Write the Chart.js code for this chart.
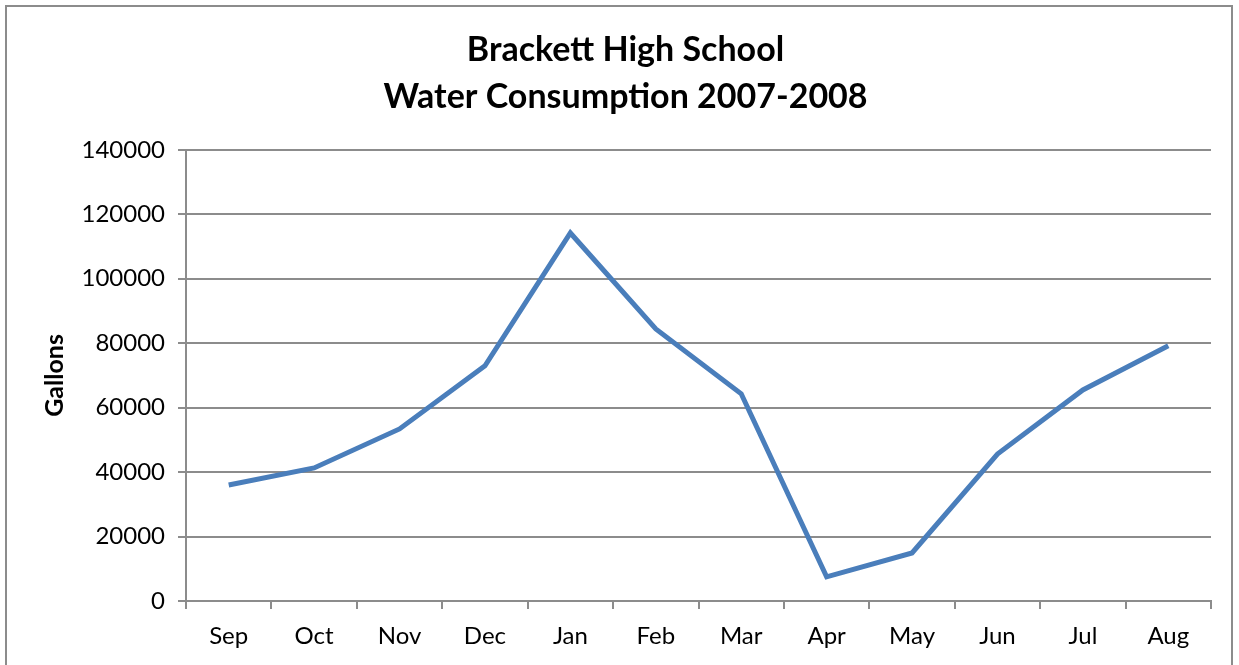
<!DOCTYPE html>
<html>
<head>
<meta charset="utf-8">
<script src="https://cdn.jsdelivr.net/npm/chart.js@4"></script>
<style>
  body { margin: 0; background: #fff; }
  #wrap { width: 1239px; height: 665px; position: relative; }
</style>
</head>
<body>
<div id="wrap"><canvas id="waterChart" width="1239" height="665"></canvas></div>
<script>
var months = ['Sep', 'Oct', 'Nov', 'Dec', 'Jan', 'Feb', 'Mar', 'Apr', 'May', 'Jun', 'Jul', 'Aug'];
var gallons = [36000, 41300, 53400, 73000, 114200, 84400, 64300, 7500, 14900, 45600, 65500, 79200];
var yTicks = [0, 20000, 40000, 60000, 80000, 100000, 120000, 140000];

var gridGray = '#8c8c8c';

// outer frame like the spreadsheet chart border
var framePlugin = {
  id: 'frame',
  beforeDraw: function (chart) {
    var ctx = chart.ctx;
    ctx.save();
    ctx.fillStyle = '#fff';
    ctx.fillRect(0, 0, chart.width, chart.height);
    ctx.strokeStyle = '#8c8c8c';
    ctx.lineWidth = 2;
    ctx.strokeRect(6, 6, 1226, 720);
    ctx.restore();
  }
};

var ctx = document.getElementById('waterChart').getContext('2d');
var chart = new Chart(ctx, {
  type: 'line',
  data: {
    labels: months,
    datasets: [{
      label: 'Gallons',
      data: gallons,
      borderColor: '#4a7ebb',
      borderWidth: 5,
      pointRadius: 0,
      fill: false,
      tension: 0
    }]
  },
  options: {
    responsive: false,
    animation: false,
    layout: { padding: { left: 40, right: 28, top: 20, bottom: 10 } },
    plugins: {
      legend: { display: false },
      tooltip: { enabled: false },
      title: {
        display: true,
        text: ['Brackett High School', 'Water Consumption 2007-2008'],
        color: '#000',
        font: { family: 'Lato', size: 34, weight: 'bold', lineHeight: 1.365 },
        padding: { top: 7, bottom: 30 }
      }
    },
    scales: {
      x: {
        offset: true,
        grid: { offset: true, drawOnChartArea: false, drawTicks: true, tickLength: 8, color: gridGray, lineWidth: 2 },
        border: { color: gridGray, width: 2 },
        ticks: { color: '#000', padding: 13, font: { family: 'Lato', size: 24 } },
        afterFit: function (scale) { scale.height = 54; }
      },
      y: {
        min: 0,
        max: 140000,
        afterBuildTicks: function (scale) {
          scale.ticks = yTicks.map(function (v) { return { value: v }; });
        },
        grid: { color: gridGray, lineWidth: 2, tickLength: 8 },
        border: { color: gridGray, width: 2 },
        ticks: {
          color: '#000',
          padding: 13,
          font: { family: 'Lato', size: 24 },
          callback: function (v) { return String(v); }
        },
        title: {
          display: true,
          text: 'Gallons',
          color: '#000',
          font: { family: 'Lato', size: 25, weight: 'bold' },
          padding: 0
        },
        afterFit: function (scale) { scale.width = 146; }
      }
    }
  },
  plugins: [framePlugin]
});
</script>
</body>
</html>
